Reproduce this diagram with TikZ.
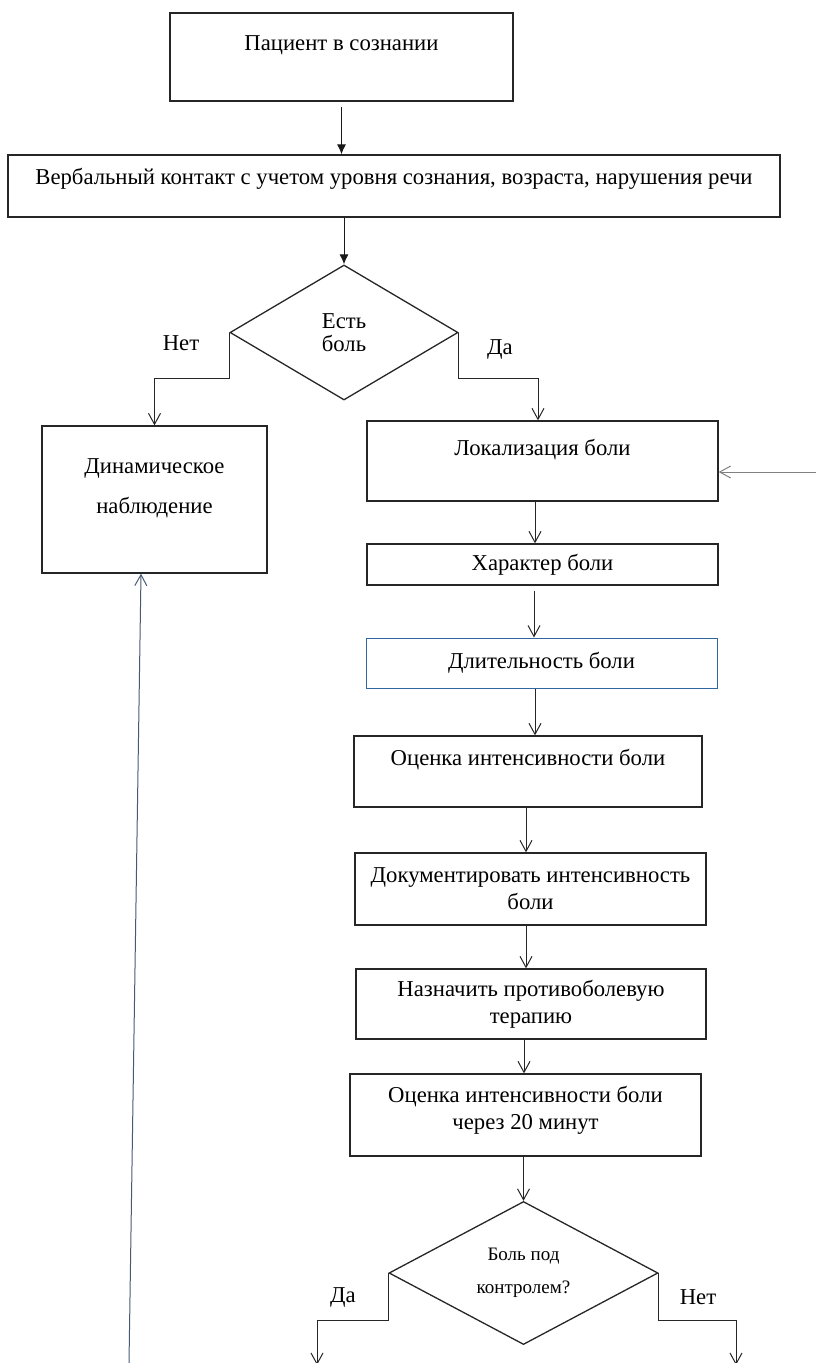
\documentclass[tikz,border=0pt]{standalone}
\usepackage{fontspec}
\setmainfont{Liberation Serif}
\usetikzlibrary{shapes.geometric}
\usetikzlibrary{arrows.meta}
\definecolor{boxblue}{RGB}{47,102,160}
\definecolor{loopgray}{RGB}{70,90,115}
\tikzset{>={Straight Barb[length=11pt,width=12pt]}}
\tikzstyle{box} = [rectangle, draw=black!85, line width=1.3pt, inner sep=0pt, align=center, font=\fontsize{22.7}{27}\selectfont]
\tikzstyle{decide} = [diamond, draw=black!85, line width=1.3pt, inner sep=0pt, align=center]
\tikzstyle{tag} = [inner sep=0pt, font=\fontsize{22.7}{27}\selectfont]
\tikzstyle{flow} = [->, line width=1pt, draw=black!85]
\tikzstyle{lead} = [-{Latex[length=10pt,width=9pt]}, line width=1pt, draw=black!90]

\begin{document}
\begin{tikzpicture}[x=1pt, y=-1pt, every label/.style={inner sep=0pt, align=center, font=\fontsize{22.7}{27}\selectfont}]
\useasboundingbox (0,0) rectangle (816,1363);
\node [box, minimum width=343, minimum height=88, label={[yshift=12pt]center:Пациент в сознании}] (patient) at (341.5, 57) {};
\node [box, minimum width=772, minimum height=62, label={[yshift=7pt]center:Вербальный контакт с учетом уровня сознания, возраста, нарушения речи}] (verbal) at (394, 186) {};
\node [decide, minimum width=228, minimum height=135, font=\fontsize{22.7}{23}\selectfont] (pain) at (344, 332.5) {Есть\\боль};
\node [box, minimum width=225, minimum height=147, label={[yshift=11pt]center:{Динамическое\\[13pt]наблюдение}}] (observe) at (154.5, 499.5) {};
\node [box, minimum width=351, minimum height=80, label={[yshift=11pt]center:Локализация боли}] (locate) at (542.5, 461) {};
\node [box, minimum width=351, minimum height=41] (character) at (542.5, 564.5) {Характер боли};
\node [box, draw=boxblue, line width=1pt, minimum width=351, minimum height=50] (duration) at (541.5, 663) {Длительность боли};
\node [box, minimum width=348, minimum height=71, label={[yshift=11.5pt]center:Оценка интенсивности боли}] (assess) at (528, 771.5) {};
\node [box, minimum width=351, minimum height=72] (record) at (530.5, 889) {Документировать интенсивность\\боли};
\node [box, minimum width=350, minimum height=70] (therapy) at (531, 1004) {Назначить противоболевую\\терапию};
\node [box, minimum width=351, minimum height=82, label={[yshift=5pt]center:{Оценка интенсивности боли\\через 20 минут}}] (reassess) at (525.5, 1115) {};
\node [decide, minimum width=269, minimum height=136, font=\fontsize{19}{33}\selectfont] (control) at (523.5, 1273) {Боль под\\контролем?};

\node [tag] (no1) at (181, 343) {Нет};
\node [tag] (yes1) at (500, 349) {Да};
\node [tag] (yes2) at (343, 1297) {Да};
\node [tag] (no2) at (698, 1297) {Нет};

\coordinate (return) at (816, 472);
\coordinate (yesout) at (317, 1365);
\coordinate (noout) at (736, 1365);
\coordinate (loop) at (129, 1363);

\draw [lead, shorten <=5pt] (patient.south) -- (patient.south |- verbal.north);
\draw [lead] (pain.north |- verbal.south) -- (pain.north);
\draw [flow] (pain.west) -- ++(0, 46) -| (observe.north);
\draw [flow] (pain.east) -- ++(0, 46) -| ([xshift=-4.5pt]locate.north);
\draw [flow, draw=gray] (return) -- (return -| locate.east);

\draw [flow] ([xshift=-7.5pt]locate.south) -- ([xshift=-7.5pt]locate.south |- character.north);
\draw [flow, shorten <=5pt] ([xshift=-8.5pt]character.south) -- ([xshift=-8.5pt]character.south |- duration.north);
\draw [flow] ([xshift=-6.5pt]duration.south) -- ([xshift=-6.5pt]duration.south |- assess.north);
\draw [flow] ([xshift=-2pt]assess.south) -- ([xshift=-2pt]assess.south |- record.north);
\draw [flow] ([xshift=-4.5pt]record.south) -- ([xshift=-4.5pt]record.south |- therapy.north);
\draw [flow] ([xshift=-7pt]therapy.south) -- ([xshift=-7pt]therapy.south |- reassess.north);
\draw [flow] (control.north |- reassess.south) -- (control.north);

\draw [flow] (control.west) -- ++(0, 47) -| (yesout);
\draw [flow] (control.east) -- ++(0, 47) -| (noout);
\draw [flow, draw=loopgray] (loop) -- ([xshift=-13.5pt]observe.south);
\end{tikzpicture}
\end{document}
